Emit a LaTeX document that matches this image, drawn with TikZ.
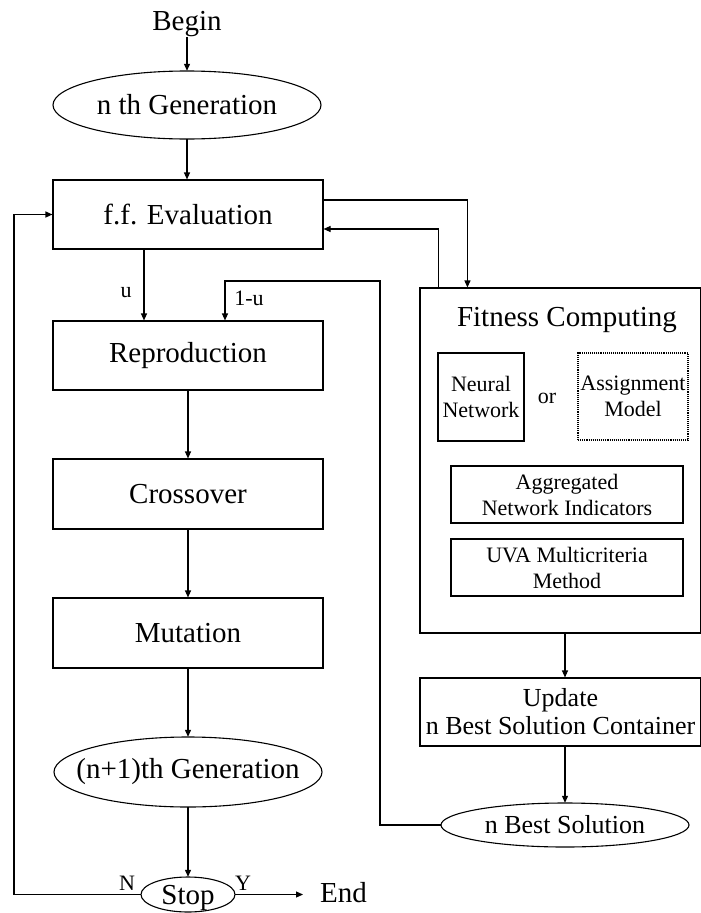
\documentclass[tikz,border=0pt]{standalone}
\usepackage{fontspec}
\setmainfont{Liberation Serif}
\usetikzlibrary{arrows.meta,calc}
\begin{document}
\begin{tikzpicture}[x=1pt,y=-1pt,
  ln/.style={line width=1.1pt},
  arr/.style={ln,-{Triangle[length=7pt,width=6pt]}},
  big/.style={font=\fontsize{29}{32}\selectfont},
  mid/.style={font=\fontsize{26}{28}\selectfont},
  sml/.style={font=\fontsize{22}{26}\selectfont},
  box/.style={draw,ln,rectangle,inner sep=0pt,align=center},
  ebox/.style={rectangle,inner sep=0pt,align=center},
  lbl/.style={inner sep=0pt,sml}]
\useasboundingbox (0,0) rectangle (701,913);
% left column
\node[big,inner sep=0pt] (begin) at (187,24) {Begin};
\node[ebox,big,minimum width=268,minimum height=68] (g1) at (187,105) {n th Generation};
\node[box,big,minimum width=270,minimum height=69] (eval) at (188,214.5) {f.f. Evaluation};
\node[box,big,minimum width=270,minimum height=69] (repro) at (188,355.5) {Reproduction};
\node[box,big,minimum width=270,minimum height=70] (cross) at (188,494) {Crossover};
\node[box,big,minimum width=270,minimum height=70] (mut) at (188,633) {Mutation};
\node[ebox,big,minimum width=268,minimum height=70] (g2) at (188,772) {(n+1)th Generation};
\node[ebox,big,minimum width=94,minimum height=35,text depth=0pt] (stop) at (188,894.5) {Stop};
\node[big,inner sep=0pt,anchor=west] (end) at (320,893) {End};
\draw[ln] (g1.center) ellipse [x radius=134,y radius=34];
\draw[ln] (g2.center) ellipse [x radius=134,y radius=35];
\draw[ln] (stop.center) ellipse [x radius=47,y radius=17.5];
% right column
\node[box,minimum width=281,minimum height=345] (fit) at (560.5,460.5) {};
\node[big,inner sep=0pt] (fittitle) at (567,320) {Fitness Computing};
\node[box,sml,minimum width=86,minimum height=88] (nn) at (481,397) {Neural\\Network};
\node[lbl] (or) at (547,398) {or};
\node[box,sml,densely dotted,minimum width=110,minimum height=87] (am) at (633,396.5) {Assignment\\Model};
\node[box,sml,minimum width=232,minimum height=57] (agg) at (567,494.5) {Aggregated\\Network Indicators};
\node[box,sml,minimum width=232,minimum height=57] (uva) at (567,567.5) {UVA Multicriteria\\Method};
\node[box,mid,minimum width=281,minimum height=68] (upd) at (560.5,712) {Update\\n Best Solution Container};
\node[ebox,mid,minimum width=248,minimum height=44] (nbest) at (565,825) {n Best Solution};
\draw[ln] (nbest.center) ellipse [x radius=124,y radius=22];
% labels
\node[lbl] (lu) at (126,293) {u};
\node[lbl] (l1u) at (249,298) {1-u};
\node[lbl] (ln) at (127,883) {N};
\node[lbl] (ly) at (243,883) {Y};
% connectors
\coordinate (cl) at (14,894.5);
\coordinate (cr) at (380,281);
\draw[arr] (begin.south) -- (g1.north);
\draw[arr] (g1.south) -- (g1.south |- eval.north);
\draw[arr] ([xshift=-44pt]eval.south) -- ([xshift=-44pt]repro.north);
\draw[arr] (repro.south) -- (cross.north);
\draw[arr] (cross.south) -- (mut.north);
\draw[arr] (mut.south) -- (g2.north);
\draw[arr] (g2.south) -- (stop.north);
\draw[arr] (stop.west) -- (cl) |- (eval.west);
\draw[arr,shorten >=17pt] (stop.east) -- (stop.east -| end.west);
\draw[arr] ([yshift=14.5pt]eval.east) -| ([xshift=48pt]fit.north west);
\draw[arr] ([xshift=19pt]fit.north west) |- ([yshift=-14.5pt]eval.east);
\draw[arr] (nbest.west) -| (cr) -| ([xshift=37pt]repro.north);
\draw[arr] ([xshift=4.5pt]fit.south) -- ([xshift=4.5pt]upd.north);
\draw[arr] ([xshift=4.5pt]upd.south) -- (nbest.north);
\end{tikzpicture}
\end{document}
